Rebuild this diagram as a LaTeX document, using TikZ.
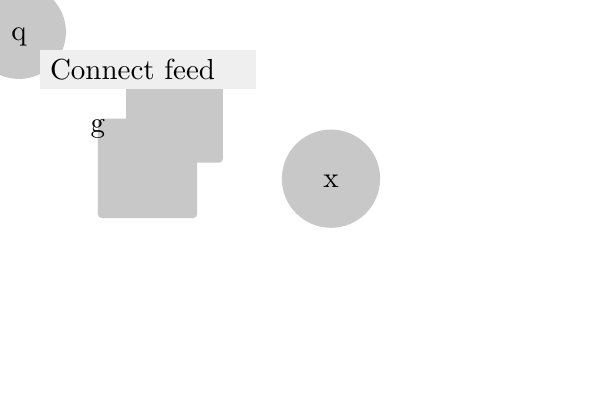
\documentclass[tikz,border=0pt]{standalone}
\definecolor{shapegray}{HTML}{C8C8C8}
\definecolor{notegray}{HTML}{EFEFEF}
\begin{document}
\begin{tikzpicture}[x=0.345pt,y=-0.345pt]
\tikzstyle{every node}=[inner sep=0pt,outer sep=0pt]
\tikzstyle{blob}=[circle,fill=shapegray,text height=8pt,text depth=1.8pt]
\tikzstyle{card}=[rectangle,rounded corners=1.4pt,fill=shapegray]
\useasboundingbox (0,0) rectangle (600,400);
\node[blob,minimum size=32.4pt](q) at (19,32) {q};
\node[card,minimum size=33.4pt](f1) at (174.5,114.3) {};
\node[card,minimum size=34.3pt](f2) at (147.5,168.4) {};
\node[blob,minimum size=33.9pt](x) at (331,178.7) {x};
\node[rectangle,fill=notegray,minimum height=13.5pt,text width=67.6pt,
      inner xsep=3.45pt,align=left](conn) at (148,69.5) {Connect feed};
\node(g) at ([yshift=-3.6pt]f2.north west) {g};
\end{tikzpicture}
\end{document}
